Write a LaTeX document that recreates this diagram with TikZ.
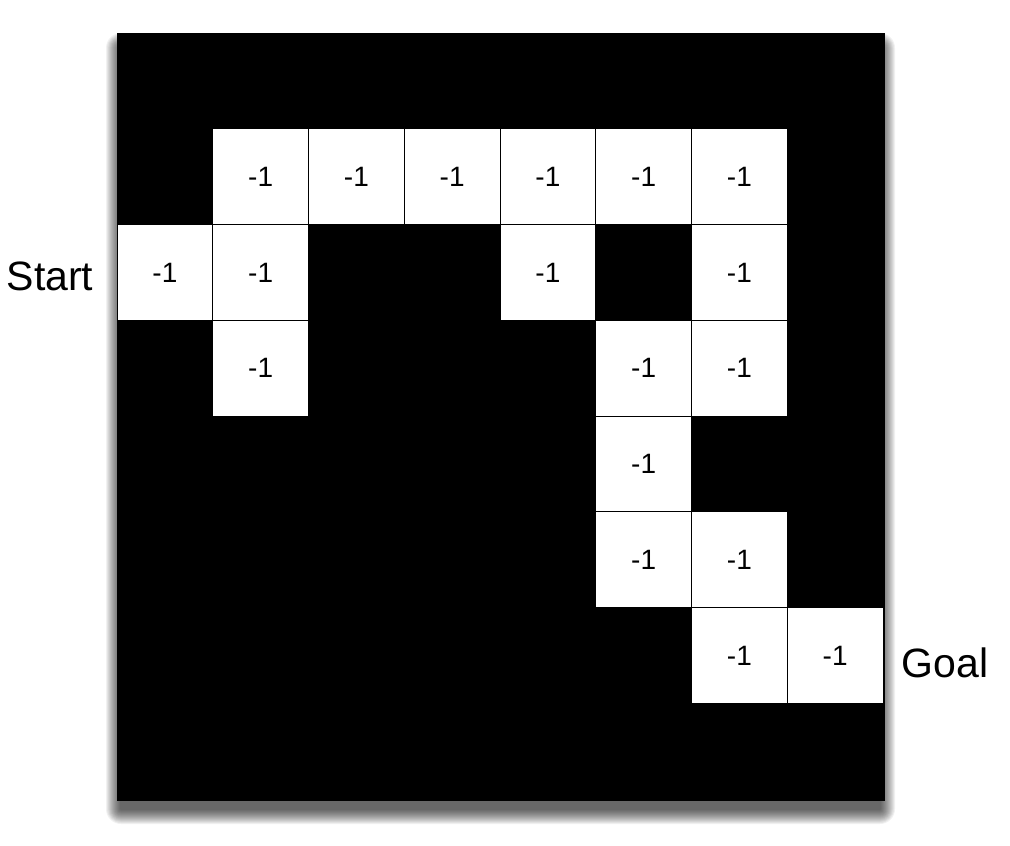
\documentclass[tikz,border=0pt]{standalone}
\usepackage{fontspec}
\setmainfont{Liberation Sans}
\begin{document}
\begin{tikzpicture}[x=1pt,y=-1pt,
  board/.style={fill=black,draw=black},
  shadowlayer/.style={fill=black,fill opacity=0.055,draw=none,rounded corners=#1},
  cell/.style={fill=white,draw=black,line width=0.8pt,minimum width=95.75pt,minimum height=95.75pt,inner sep=0pt,font=\fontsize{28}{30}\selectfont},
  lbl/.style={font=\fontsize{41}{44}\selectfont,inner sep=0pt}]
\useasboundingbox[fill=white] (0,0) rectangle (1010,846);
\foreach \i in {1,...,15}{
  \fill[shadowlayer=\i pt] ({121-\i},{48-\i}) rectangle ({880+\i},{809+\i});
}
\node[board,minimum width=767pt,minimum height=767pt,inner sep=0pt,anchor=north west] (B) at (117,33) {};
\def\cs{95.75}
\foreach \c/\r in {1/1,2/1,3/1,4/1,5/1,6/1,0/2,1/2,4/2,6/2,1/3,5/3,6/3,5/4,5/5,6/5,6/6,7/6}{
  \node[cell] (c\c-\r) at ({117+(\c+0.5)*\cs},{33+(\r+0.5)*\cs}) {-1};
}
\node[lbl] (start) at (50,276) {Start};
\node[lbl] (goal) at (945,663) {Goal};
\end{tikzpicture}
\end{document}
